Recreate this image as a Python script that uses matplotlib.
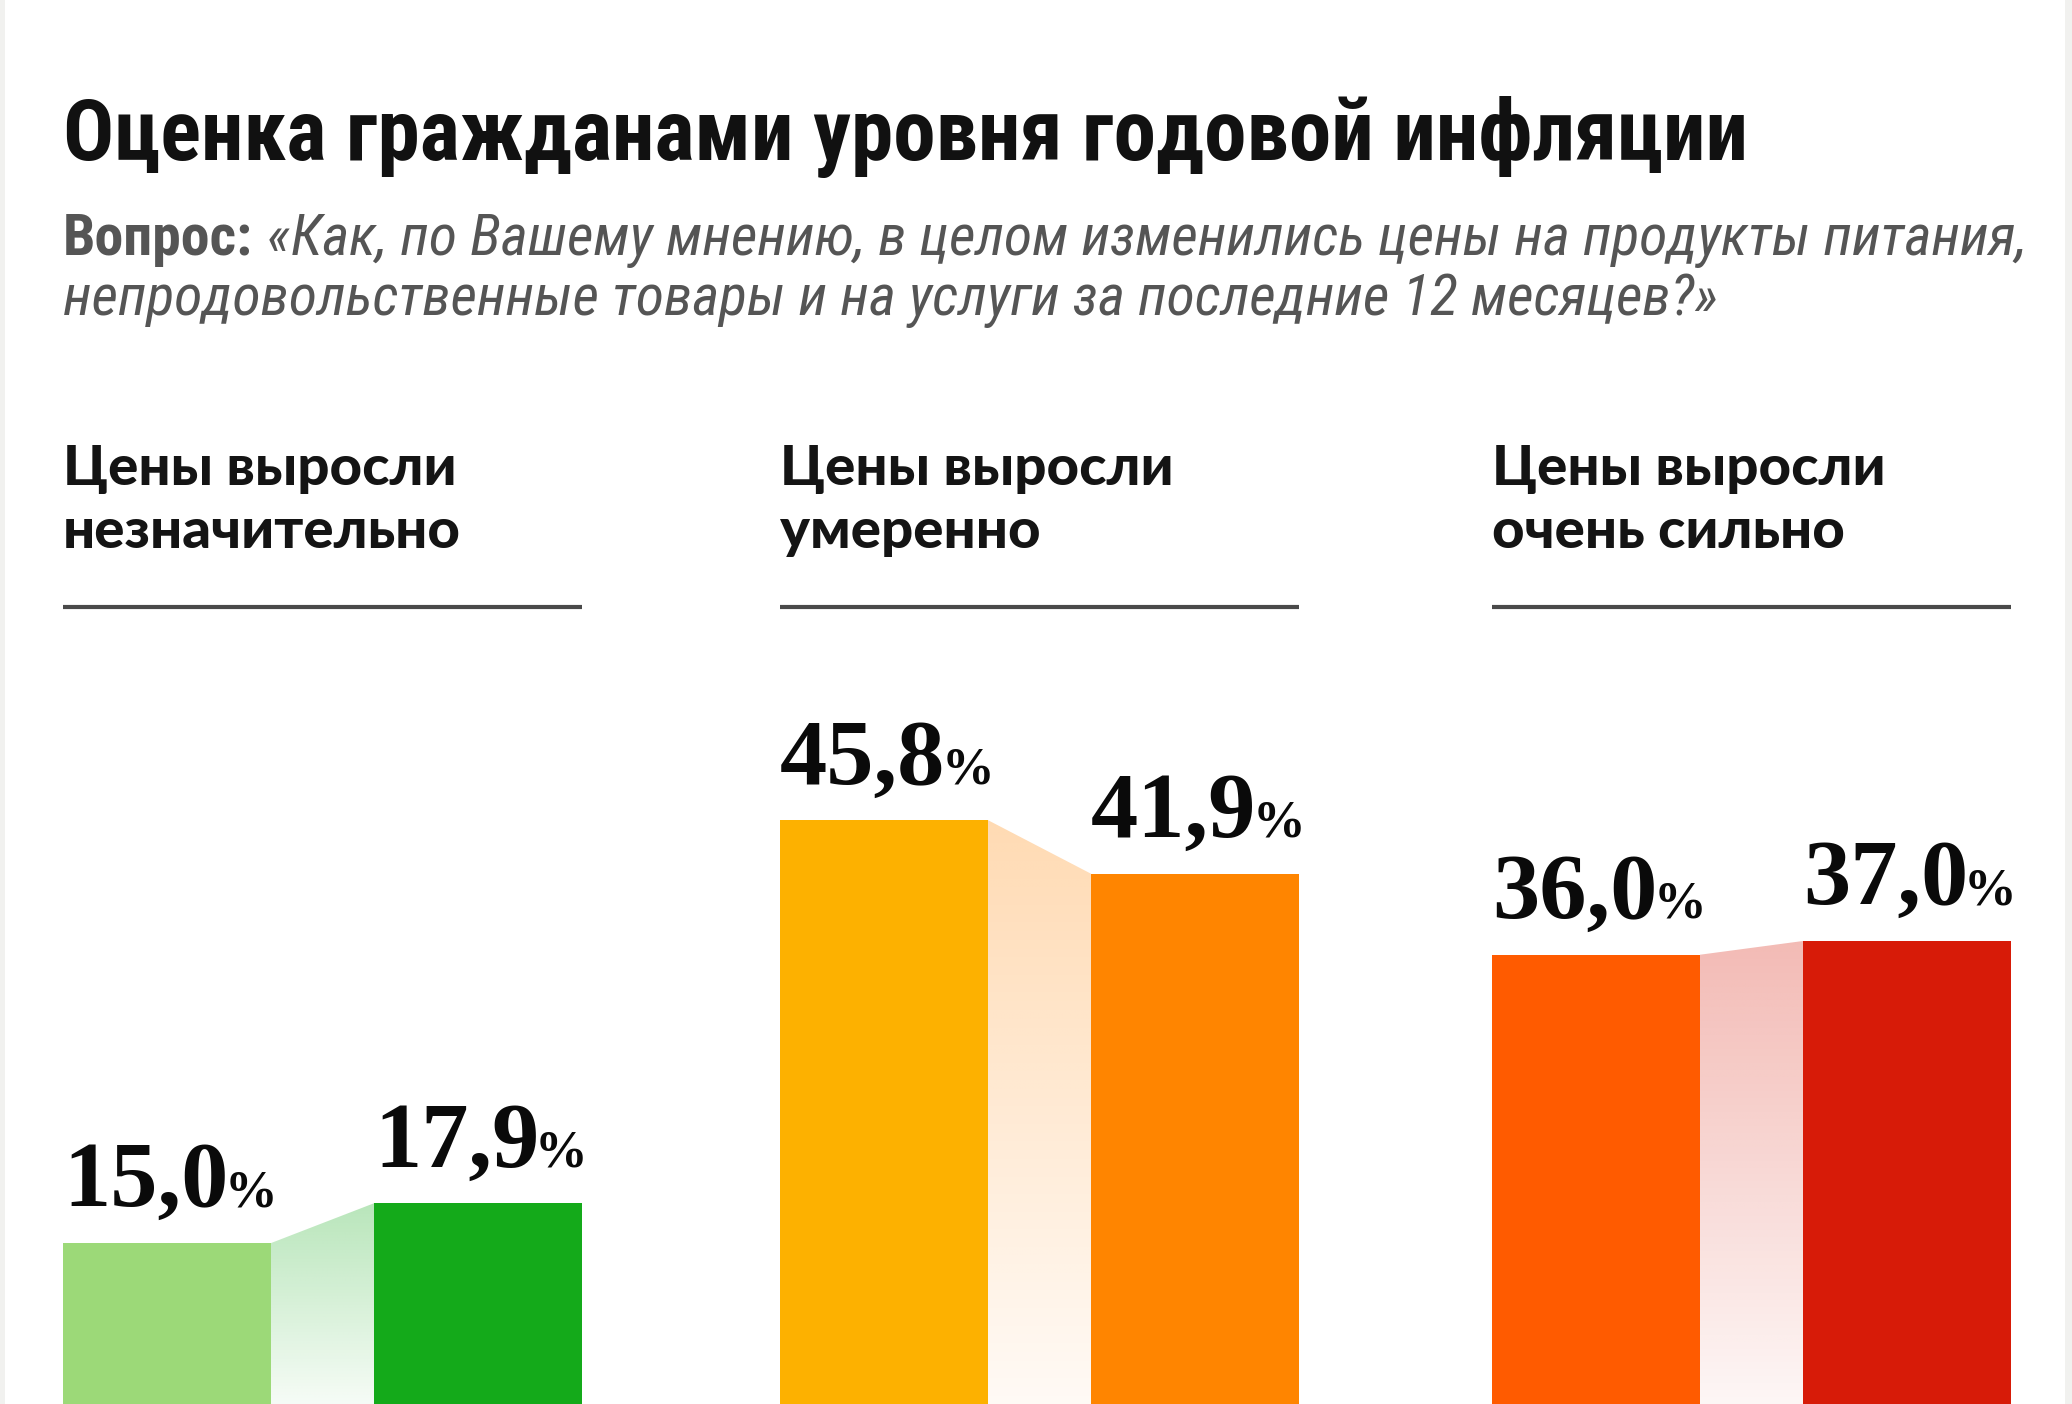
import os
import numpy as np
import matplotlib
matplotlib.use("Agg")
import matplotlib.pyplot as plt
from matplotlib import font_manager as fm
from matplotlib.patches import Polygon, Rectangle
from matplotlib.colors import to_rgb

## data
title = "Оценка гражданами уровня годовой инфляции"
question_lead = "Вопрос:"
question_lines = ["«Как, по Вашему мнению, в целом изменились цены на продукты питания,",
                  "непродовольственные товары и на услуги за последние 12 месяцев?»"]
groups = ["Цены выросли\nнезначительно", "Цены выросли\nумеренно", "Цены выросли\nочень сильно"]
before = [15.0, 45.8, 36.0]
after = [17.9, 41.9, 37.0]
colors_before = ["#9cd978", "#fdb100", "#ff5b00"]
colors_after = ["#14aa1a", "#ff8500", "#d71b08"]

## fonts (pick condensed files when they exist)
_files = {os.path.basename(f.fname).lower(): f.fname for f in fm.fontManager.ttflist}

def font(cands, family="DejaVu Sans", weight="normal", style="normal"):
    for c in cands:
        if c.lower() in _files:
            return fm.FontProperties(fname=_files[c.lower()])
    return fm.FontProperties(family=family, weight=weight, style=style)

f_title = font(["RobotoCondensed-Bold.ttf", "OpenSans-CondBold.ttf",
                "LiberationSansNarrow-Bold.ttf", "DejaVuSansCondensed-Bold.ttf"],
               "Roboto", "bold")
f_qbold = font(["RobotoCondensed-Bold.ttf", "LiberationSansNarrow-Bold.ttf"], "Roboto", "bold")
f_qital = font(["RobotoCondensed-Italic.ttf", "LiberationSansNarrow-Italic.ttf",
                "DejaVuSansCondensed-Oblique.ttf"], "Roboto", "normal", "italic")
f_head = font(["Lato-Heavy.ttf", "Lato-Black.ttf", "Lato-Bold.ttf", "OpenSans-Bold.ttf"],
              "Lato", "heavy")
f_num = font(["LiberationSerif-Bold.ttf"], "Liberation Serif", "bold")

W, H = 2072, 1404
fig = plt.figure(figsize=(W / 100, H / 100), dpi=100)
fig.patch.set_facecolor("white")

# background axes in pixel units (y down)
bg = fig.add_axes([0, 0, 1, 1])
bg.set_xlim(0, W)
bg.set_ylim(H, 0)
bg.axis("off")
bg.add_patch(Rectangle((0, 0), 5, H, color="#f1f1ef", lw=0))
bg.add_patch(Rectangle((W - 7, 0), 7, H, color="#f1f1ef", lw=0))

renderer = fig.canvas.get_renderer()

def fit(t, target):
    w = t.get_window_extent(renderer).width
    t.set_fontsize(t.get_fontsize() * target / w)
    return t.get_fontsize()

t = bg.text(63, 160, title, fontproperties=f_title, fontsize=60, color="#111111",
            va="baseline", ha="left")
fit(t, 1684)

q0 = bg.text(63, 255, question_lead, fontproperties=f_qbold, fontsize=36, color="#555555",
             va="baseline", ha="left")
q1 = bg.annotate(question_lines[0], xy=(1, 255), xycoords=(q0, "data"), xytext=(10, 0),
                 textcoords="offset points", fontproperties=f_qital, fontsize=36,
                 color="#555555", va="baseline", ha="left")
qs = fit(q1, 2035 - 273)
q0.set_fontsize(qs)
bg.text(63, 315, question_lines[1], fontproperties=f_qital, fontsize=qs, color="#555555",
        va="baseline", ha="left")

group_left = [63, 780, 1492]
bar_w = 208
gap = 103
group_w = 2 * bar_w + gap

for x0, g in zip(group_left, groups):
    for k, line in enumerate(g.split("\n")):
        h = bg.text(x0, 485 + 63 * k, line, fontproperties=f_head, fontsize=42,
                    color="#141414", va="baseline", ha="left")
        if k == 0:
            hs = fit(h, 394)
        else:
            h.set_fontsize(hs)
    bg.plot([x0, x0 + group_w], [607, 607], color="#4a4a4a", lw=3, solid_capstyle="butt")

# bar axes: zero sits below the bottom edge, ~13.7 px per percent
px_per_pct = 13.73
zero_px = 1449
top_px = 640
ax = fig.add_axes([0, (H - zero_px) / H, 1, (zero_px - top_px) / H])
ax.set_xlim(0, W)
ax.set_ylim(0, (zero_px - top_px) / px_per_pct)
ax.set_facecolor("none")
ax.axis("off")
y_vis = (zero_px - H) / px_per_pct  # value at the figure's bottom edge

def label(x, v):
    s = f"{v:.1f}".replace(".", ",")
    n = ax.annotate(s, xy=(x, v), xytext=(0, 26.5), textcoords="offset points",
                    fontproperties=f_num, fontsize=68, color="#0a0a0a",
                    va="baseline", ha="left")
    ax.annotate("%", xy=(1, v), xycoords=(n, "data"), xytext=(-3, 26.5),
                textcoords="offset points", fontproperties=f_num, fontsize=38,
                color="#0a0a0a", va="baseline", ha="left")

for i, x0 in enumerate(group_left):
    xa = x0 + bar_w
    xb = xa + gap
    ax.bar(x0, before[i], width=bar_w, align="edge", color=colors_before[i], lw=0)
    ax.bar(xb, after[i], width=bar_w, align="edge", color=colors_after[i], lw=0)

    # faded connector between the two bars
    top = max(before[i], after[i])
    poly = Polygon([(xa, 0), (xa, before[i]), (xb, after[i]), (xb, 0)],
                   closed=True, facecolor="none", edgecolor="none")
    ax.add_patch(poly)
    ys = np.linspace(top, 0, 200)
    a = 0.04 + (0.30 - 0.04) * (ys - y_vis) / (top - y_vis)
    a = np.clip(a, 0, 1)
    grad = np.zeros((200, 1, 4))
    grad[:, 0, :3] = to_rgb(colors_after[i])
    grad[:, 0, 3] = a
    im = ax.imshow(grad, extent=(xa, xb, 0, top), aspect="auto", origin="upper",
                   interpolation="bilinear", zorder=1)
    im.set_clip_path(poly)

    label(x0, before[i])
    label(xb, after[i])

fig.savefig("out.png", dpi=100, facecolor="white")
